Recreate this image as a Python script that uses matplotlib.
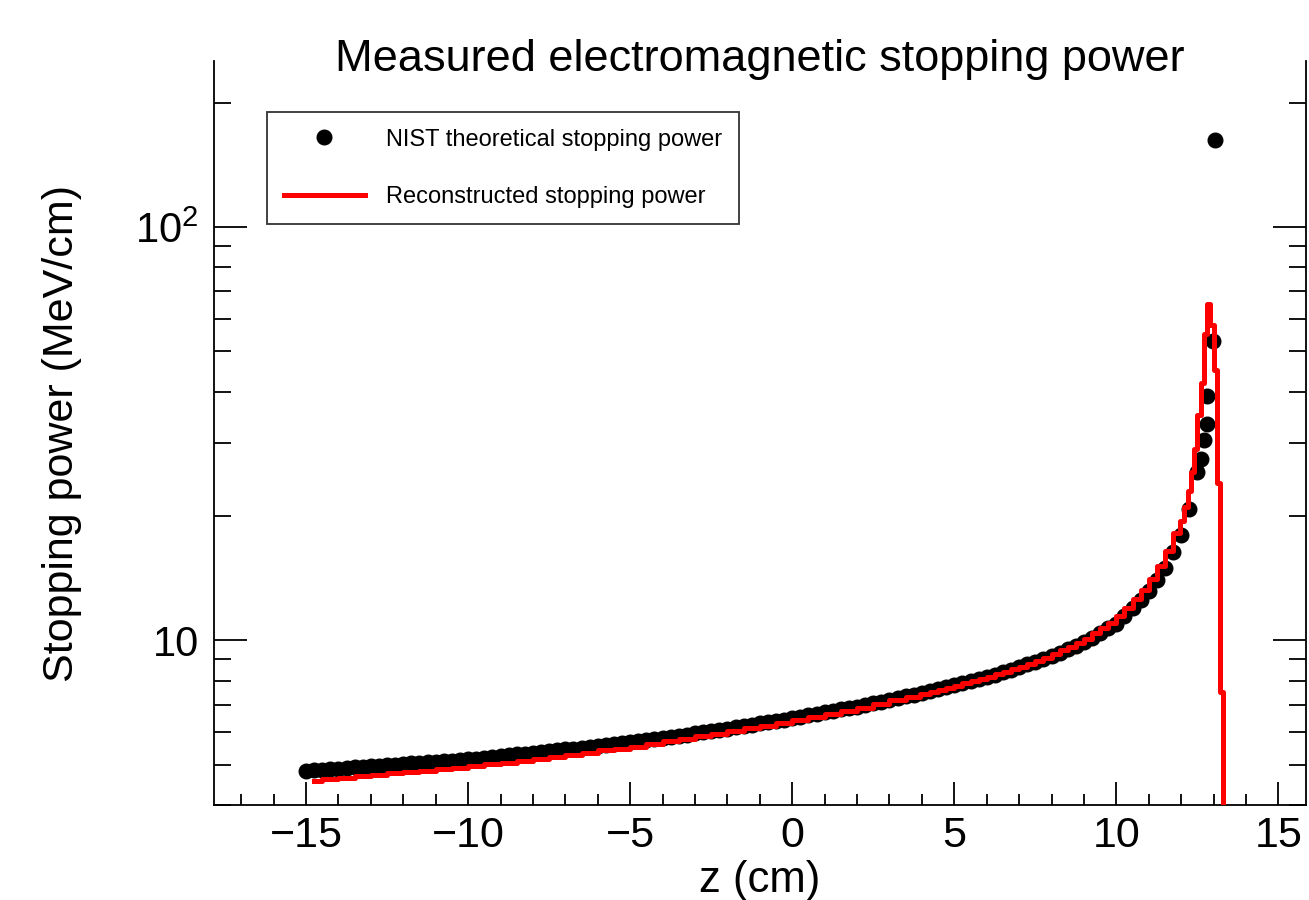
import matplotlib
matplotlib.use("Agg")
import matplotlib.pyplot as plt
from matplotlib.ticker import FixedLocator, FixedFormatter, LogLocator, NullFormatter, MultipleLocator

plt.rcParams['font.family'] = ['Liberation Sans', 'DejaVu Sans']
plt.rcParams['mathtext.fontset'] = 'custom'
plt.rcParams['mathtext.rm'] = 'Liberation Sans'

# NIST theoretical stopping power (z in cm, MeV/cm)
nist_z = [-15.0, -14.75, -14.5, -14.25, -14.0, -13.75, -13.5, -13.25, -13.0, -12.75,
          -12.5, -12.25, -12.0, -11.75, -11.5, -11.25, -11.0, -10.75, -10.5, -10.25,
          -10.0, -9.75, -9.5, -9.25, -9.0, -8.75, -8.5, -8.25, -8.0, -7.75,
          -7.5, -7.25, -7.0, -6.75, -6.5, -6.25, -6.0, -5.75, -5.5, -5.25,
          -5.0, -4.75, -4.5, -4.25, -4.0, -3.75, -3.5, -3.25, -3.0, -2.75,
          -2.5, -2.25, -2.0, -1.75, -1.5, -1.25, -1.0, -0.75, -0.5, -0.25,
          0.0, 0.25, 0.5, 0.75, 1.0, 1.25, 1.5, 1.75, 2.0, 2.25,
          2.5, 2.75, 3.0, 3.25, 3.5, 3.75, 4.0, 4.25, 4.5, 4.75,
          5.0, 5.25, 5.5, 5.75, 6.0, 6.25, 6.5, 6.75, 7.0, 7.25,
          7.5, 7.75, 8.0, 8.25, 8.5, 8.75, 9.0, 9.25, 9.5, 9.75,
          10.0, 10.25, 10.5, 10.75, 11.0, 11.25, 11.5, 11.75, 12.0, 12.25,
          12.5, 12.6, 12.7, 12.79, 12.81, 12.99, 13.03]
nist_sp = [4.83, 4.85, 4.86, 4.88, 4.89, 4.91, 4.93, 4.94, 4.96, 4.97,
           4.99, 5.01, 5.02, 5.04, 5.06, 5.07, 5.09, 5.11, 5.12, 5.14,
           5.16, 5.18, 5.20, 5.23, 5.25, 5.27, 5.30, 5.32, 5.34, 5.37,
           5.39, 5.42, 5.45, 5.47, 5.50, 5.53, 5.56, 5.59, 5.62, 5.64,
           5.67, 5.71, 5.74, 5.78, 5.81, 5.85, 5.88, 5.92, 5.96, 5.99,
           6.03, 6.07, 6.12, 6.16, 6.21, 6.25, 6.30, 6.34, 6.39, 6.43,
           6.48, 6.53, 6.59, 6.64, 6.70, 6.75, 6.81, 6.87, 6.92, 6.98,
           7.04, 7.11, 7.18, 7.26, 7.33, 7.40, 7.48, 7.55, 7.63, 7.71,
           7.79, 7.88, 7.98, 8.07, 8.17, 8.27, 8.37, 8.50, 8.62, 8.75,
           8.88, 9.02, 9.15, 9.33, 9.51, 9.70, 9.89, 10.15, 10.42, 10.70,
           10.99, 11.45, 11.95, 12.55, 13.2, 14.0, 15.0, 16.4, 18.0, 20.8,
           25.5, 27.5, 30.5, 33.3, 39.1, 53.0, 162.0]

# reconstructed stopping power histogram (bin centres, MeV/cm)
reco_z = [-14.75, -14.25, -13.75, -13.25, -12.75, -12.25, -11.75, -11.25, -10.75, -10.25,
          -9.75, -9.25, -8.75, -8.25, -7.75, -7.25, -6.75, -6.25, -5.75, -5.25,
          -4.75, -4.25, -3.75, -3.25, -2.75, -2.25, -1.75, -1.25, -0.75, -0.25,
          0.25, 0.75, 1.25, 1.75, 2.25, 2.75, 3.25, 3.75,
          4.125, 4.375, 4.625, 4.875, 5.125, 5.375, 5.625, 5.875,
          6.125, 6.375, 6.625, 6.875, 7.125, 7.375, 7.625, 7.875,
          8.125, 8.375, 8.625, 8.875, 9.125, 9.375, 9.625, 9.875,
          10.125, 10.375, 10.625, 10.875, 11.125, 11.375, 11.625, 11.875,
          12.05, 12.15, 12.25, 12.35, 12.45, 12.55, 12.65, 12.75, 12.85, 12.95,
          13.05, 13.15, 13.25, 13.35]
reco_sp = [4.58, 4.62, 4.65, 4.69, 4.72, 4.77, 4.80, 4.84, 4.88, 4.92,
           4.96, 5.02, 5.06, 5.12, 5.17, 5.23, 5.28, 5.35, 5.42, 5.47,
           5.54, 5.62, 5.70, 5.77, 5.87, 5.95, 6.04, 6.13, 6.22, 6.31,
           6.41, 6.52, 6.63, 6.76, 6.88, 7.01, 7.16, 7.31,
           7.43, 7.51, 7.60, 7.68, 7.77, 7.87, 7.97, 8.07,
           8.17, 8.28, 8.39, 8.52, 8.65, 8.79, 8.93, 9.07,
           9.26, 9.46, 9.66, 9.88, 10.10, 10.41, 10.72, 11.05,
           11.45, 12.0, 12.6, 13.25, 14.1, 15.1, 16.5, 18.2,
           19.5, 21.0, 23.0, 25.5, 29.0, 35.0, 42.0, 55.0, 65.0, 58.0,
           45.0, 24.0, 7.5, 0.0]

fig = plt.figure(figsize=(13.09, 9.0), dpi=100)
ax = fig.add_axes([214 / 1309, 1 - 805 / 900, (1306 - 214) / 1309, (805 - 61) / 900])

ax.plot(nist_z, nist_sp, 'o', color='black', markersize=10.5, linestyle='none',
        label='NIST theoretical stopping power', zorder=2)
ax.plot(reco_z, reco_sp, color='red', linewidth=3.6, drawstyle='steps-mid',
        label='Reconstructed stopping power', zorder=3)

ax.set_yscale('log')
ax.set_xlim(-17.84, 15.85)
ax.set_ylim(4.0, 252)

ax.xaxis.set_major_locator(MultipleLocator(5))
ax.xaxis.set_minor_locator(MultipleLocator(1))
ax.yaxis.set_major_locator(FixedLocator([10, 100]))
ax.yaxis.set_major_formatter(FixedFormatter(['10', r'$10^{2}$']))
ax.yaxis.set_minor_locator(LogLocator(base=10, subs=range(2, 10)))
ax.yaxis.set_minor_formatter(NullFormatter())

ax.spines['top'].set_visible(False)
for s in ['left', 'right', 'bottom']:
    ax.spines[s].set_linewidth(1.3)

ax.tick_params(axis='x', which='major', direction='in', length=16.5, width=1.3,
               labelsize=31, pad=8, top=False)
ax.tick_params(axis='x', which='minor', direction='in', length=8, width=1.3, top=False)
ax.tick_params(axis='y', which='major', direction='in', length=24, width=1.3,
               labelsize=30, pad=11, left=True, right=True)
ax.tick_params(axis='y', which='minor', direction='in', length=12, width=1.3,
               left=True, right=True)

ax.set_xlabel('z (cm)', fontsize=31.5, labelpad=3)
ax.set_ylabel('Stopping power (MeV/cm)', fontsize=31, labelpad=38)
fig.text(760 / 1309, 1 - 60 / 900, 'Measured electromagnetic stopping power',
         fontsize=32.5, ha='center', va='center')

leg = ax.legend(loc='upper left', bbox_to_anchor=(267 / 1309, 1 - 112 / 900),
                bbox_transform=fig.transFigure, fontsize=17, frameon=True,
                fancybox=False, edgecolor='black', borderpad=0.7,
                labelspacing=1.5, handlelength=3.45, handletextpad=0.9,
                borderaxespad=0)
leg.get_frame().set_linewidth(1.3)

fig.savefig('out.png', dpi=100)
